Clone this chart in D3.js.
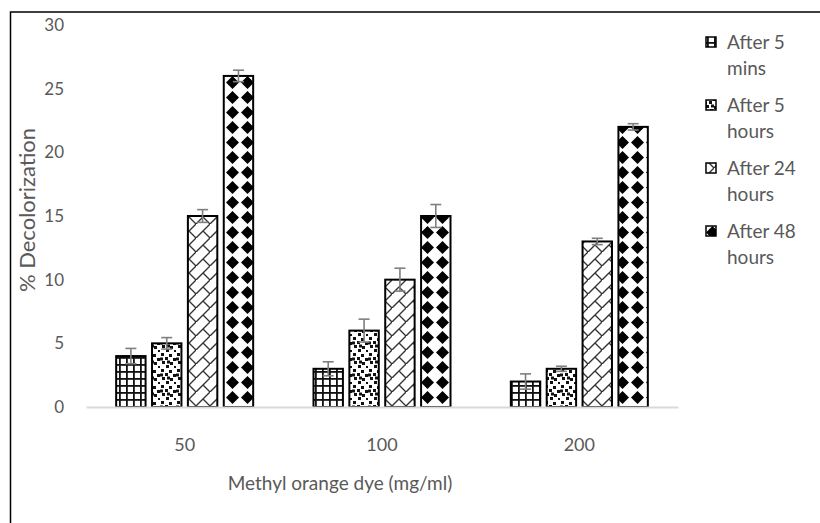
<!DOCTYPE html>
<html><head><meta charset="utf-8">
<script src="https://cdn.jsdelivr.net/npm/d3@7"></script>
<style>html,body{margin:0;padding:0;background:#fff;}svg{display:block;}</style>
</head><body><svg id="c" width="820" height="523"></svg>
<script>
const categories = ["50", "100", "200"];
const seriesNames = ["After 5 mins", "After 5 hours", "After 24 hours", "After 48 hours"];
const legendLines = [["After 5", "mins"], ["After 5", "hours"], ["After 24", "hours"], ["After 48", "hours"]];
const after5mins = [4, 3, 2];
const after5hours = [5, 6, 3];
const after24hours = [15, 10, 13];
const after48hours = [26, 15, 22];
const err5mins = [0.6, 0.55, 0.6];
const err5hours = [0.45, 0.9, 0.2];
const err24hours = [0.5, 0.9, 0.25];
const err48hours = [0.45, 0.9, 0.25];
const yTicks = [0, 5, 10, 15, 20, 25, 30];
const xTitle = "Methyl orange dye (mg/ml)";
const yTitle = "% Decolorization";

const values = [after5mins, after5hours, after24hours, after48hours];
const errors = [err5mins, err5hours, err24hours, err48hours];
const patIds = ["pGrid", "pConfetti", "pBrick", "pDiamond"];

const svg = d3.select("#c");
const font = "Lato, 'Open Sans', sans-serif";
const txt = "#595959";

// patterns
const defs = svg.append("defs");
{
  const p = defs.append("pattern").attr("id", "pGrid").attr("patternUnits", "userSpaceOnUse").attr("width", 7).attr("height", 7);
  p.append("rect").attr("width", 7).attr("height", 7).attr("fill", "#fff");
  p.append("rect").attr("width", 7).attr("height", 1.8).attr("fill", "#111");
  p.append("rect").attr("width", 1.8).attr("height", 7).attr("fill", "#111");
}
{
  const p = defs.append("pattern").attr("id", "pConfetti").attr("patternUnits", "userSpaceOnUse").attr("width", 16).attr("height", 16);
  p.append("rect").attr("width", 16).attr("height", 16).attr("fill", "#fff");
  const pts = [[1,1],[9,2],[5,5],[13,6],[2,9],[10,10],[6,13],[14,14],[0,5.5],[7,8.5]];
  pts.forEach(([a,b]) => p.append("rect").attr("x", a).attr("y", b).attr("width", 3).attr("height", 3).attr("fill", "#111"));
}
{
  const p = defs.append("pattern").attr("id", "pBrick").attr("patternUnits", "userSpaceOnUse").attr("width", 14).attr("height", 14);
  p.append("rect").attr("width", 14).attr("height", 14).attr("fill", "#fff");
  p.append("path").attr("d", "M-1,15L15,-1M7,7L14,14").attr("stroke", "#333").attr("stroke-width", 1.4).attr("fill", "none");
}
{
  const p = defs.append("pattern").attr("id", "pDiamond").attr("patternUnits", "userSpaceOnUse").attr("width", 15).attr("height", 15);
  p.append("rect").attr("width", 15).attr("height", 15).attr("fill", "#fff");
  p.append("path").attr("d", "M7.5,1L14,7.5L7.5,14L1,7.5Z").attr("fill", "#000");
}

// outer border
svg.append("rect").attr("x", 10.5).attr("y", 12).attr("width", 830).attr("height", 530)
  .attr("fill", "none").attr("stroke", "#000").attr("stroke-width", 1.5);

const x = d3.scaleBand().domain(categories).range([86, 678]).paddingInner(0).paddingOuter(0);
const groupW = 137;
const xs = d3.scaleBand().domain(d3.range(seriesNames.length))
  .range([(x.bandwidth() - groupW) / 2, (x.bandwidth() + groupW) / 2]).paddingInner(0.18).paddingOuter(0);
const y = d3.scaleLinear().domain([0, 30]).range([407, 25]);

// y tick labels
const yAxis = svg.append("g").attr("transform", "translate(64,0)")
  .call(d3.axisLeft(y).tickValues(yTicks).tickSize(0).tickPadding(0));
yAxis.select(".domain").remove();
yAxis.selectAll("text").attr("font-family", font).attr("font-size", 17).attr("fill", txt);

// bars
values.forEach((vals, si) => {
  const g = svg.append("g");
  g.selectAll("rect").data(vals).join("rect")
    .attr("x", (d, i) => x(categories[i]) + xs(si))
    .attr("y", d => y(d))
    .attr("width", xs.bandwidth())
    .attr("height", d => y(0) - y(d))
    .attr("fill", `url(#${patIds[si]})`)
    .attr("stroke", "#000").attr("stroke-width", 2);
});

// x axis line
const xAxis = svg.append("g").attr("transform", `translate(0,${y(0)})`)
  .call(d3.axisBottom(x).tickSize(0).tickPadding(31));
xAxis.select(".domain").attr("stroke", "#d9d9d9").attr("stroke-width", 2);
xAxis.selectAll("text").attr("font-family", font).attr("font-size", 18).attr("fill", txt);

// error bars
values.forEach((vals, si) => {
  const g = svg.append("g").attr("stroke", "#7f7f7f").attr("stroke-width", 1.6);
  vals.forEach((v, i) => {
    const cx = x(categories[i]) + xs(si) + xs.bandwidth() / 2;
    const e = errors[si][i];
    g.append("line").attr("x1", cx).attr("x2", cx).attr("y1", y(v - e)).attr("y2", y(v + e));
    g.append("line").attr("x1", cx - 5.5).attr("x2", cx + 5.5).attr("y1", y(v + e)).attr("y2", y(v + e));
    g.append("line").attr("x1", cx - 5.5).attr("x2", cx + 5.5).attr("y1", y(v - e)).attr("y2", y(v - e));
  });
});

// axis titles
svg.append("text").attr("x", 340).attr("y", 490).attr("text-anchor", "middle")
  .attr("font-family", font).attr("font-size", 19).attr("fill", txt).text(xTitle);
svg.append("text").attr("transform", "translate(35,210) rotate(-90)").attr("text-anchor", "middle")
  .attr("font-family", font).attr("font-size", 22).attr("fill", txt).text(yTitle);

// legend
const leg = svg.append("g");
legendLines.forEach((lines, si) => {
  const top = 37 + si * 63;
  leg.append("rect").attr("x", 706).attr("y", top).attr("width", 10).attr("height", 10)
    .attr("fill", `url(#${patIds[si]})`).attr("stroke", "#000").attr("stroke-width", 1.5);
  lines.forEach((l, li) => {
    leg.append("text").attr("x", 727).attr("y", top + 12 + li * 26)
      .attr("font-family", font).attr("font-size", 19).attr("fill", txt).text(l);
  });
});
</script></body></html>
